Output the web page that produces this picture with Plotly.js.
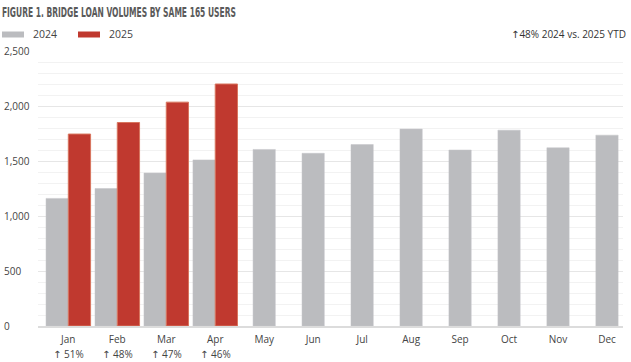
<!DOCTYPE html>
<html><head><meta charset="utf-8">
<script src="https://cdn.plot.ly/plotly-3.0.1.min.js"></script>
<style>html,body{margin:0;padding:0;background:#fff;}#chart{width:631px;height:362px;}</style>
</head><body><div id="chart"></div>
<script>
const months = ['Jan','Feb','Mar','Apr','May','Jun','Jul','Aug','Sep','Oct','Nov','Dec'];
const volumes2024 = [1160,1250,1390,1510,1605,1570,1650,1790,1600,1780,1620,1735];
const volumes2025 = [1745,1850,2035,2200,null,null,null,null,null,null,null,null];
const growthPct = [51,48,47,46];
const yTicks = [0,500,1000,1500,2000,2500];
const seriesNames = ['2024','2025'];
const ytdGrowth = 48;
const titleText = 'FIGURE 1. BRIDGE LOAN VOLUMES BY SAME 165 USERS';

const W=631,H=362,L=38,R=8,T=51,B=36;
const pw=W-L-R, ph=H-T-B;
const px=p=>(p-L)/pw, py=p=>(H-B-p)/ph;
const barW=0.455;
const gray='#bbbcbf', red='#c0392f';
const xs=months.map((_,i)=>i);
const font="'Open Sans', 'DejaVu Sans', sans-serif";

const traces=[
 {type:'bar',name:seriesNames[0],x:xs,y:volumes2024,width:barW,
  offset:volumes2025.map(v=>v==null?-barW/2:-barW),
  marker:{color:gray,line:{color:'#c4c5c8',width:0.5}},hoverinfo:'skip'},
 {type:'bar',name:seriesNames[1],x:xs,y:volumes2025,width:barW,offset:0,
  marker:{color:red,line:{color:'#d8755e',width:1}},hoverinfo:'skip'}
];

const annotations=[];
yTicks.forEach(v=>annotations.push({xref:'paper',yref:'y',x:px(2),y:v,xanchor:'left',yanchor:'middle',
  text:v.toLocaleString('en-US'),showarrow:false,font:{family:font,size:10,color:'#444'}}));
growthPct.forEach((g,i)=>annotations.push({xref:'x',yref:'paper',x:i,y:py(354),xanchor:'center',yanchor:'middle',
  text:'↑ '+g+'%',showarrow:false,borderpad:0,font:{family:font,size:10,color:'#444'}}));
annotations.push({xref:'paper',yref:'paper',x:px(628),y:py(34.5),xanchor:'right',yanchor:'middle',
  text:'↑'+ytdGrowth+'% '+seriesNames[0]+' vs. '+seriesNames[1]+' YTD',showarrow:false,font:{family:font,size:10,color:'#333'}});
annotations.push({xref:'paper',yref:'paper',x:px(31),y:py(34.5),xanchor:'left',yanchor:'middle',
  text:seriesNames[0],showarrow:false,font:{family:font,size:10.5,color:'#444'}});
annotations.push({xref:'paper',yref:'paper',x:px(107),y:py(34.5),xanchor:'left',yanchor:'middle',
  text:seriesNames[1],showarrow:false,font:{family:font,size:10.5,color:'#444'}});

const shapes=[
 {type:'rect',xref:'paper',yref:'paper',x0:px(2),x1:px(24),y0:py(37.5),y1:py(31.5),fillcolor:gray,line:{width:0}},
 {type:'rect',xref:'paper',yref:'paper',x0:px(78),x1:px(100),y0:py(37.5),y1:py(31.5),fillcolor:red,line:{width:0}}
];

const layout={
 width:W,height:H,margin:{l:L,r:R,t:T,b:B},
 paper_bgcolor:'#fff',plot_bgcolor:'#fff',
 barmode:'overlay',showlegend:false,
 title:{text:'<b>'+titleText+'</b>',xref:'container',yref:'container',x:0.003,xanchor:'left',y:1-12.5/H,yanchor:'middle',
   font:{family:"'Liberation Sans Narrow', 'DejaVu Sans Condensed', sans-serif",size:13.5,color:'#5a5a5a'}},
 xaxis:{range:[-0.619,11.327],tickvals:xs,ticktext:months,showgrid:false,zeroline:false,
   showline:true,linecolor:'#dcdcdc',linewidth:2,ticks:'',tickfont:{family:font,size:10,color:'#444'},ticklabelstandoff:3,fixedrange:true},
 yaxis:{range:[0,2500],tickvals:yTicks,showticklabels:false,gridcolor:'#e6e6e6',gridwidth:1,zeroline:false,
   minor:{dtick:100,showgrid:true,gridcolor:'#f2f2f2',gridwidth:1},fixedrange:true},
 annotations,shapes
};
Plotly.newPlot('chart',traces,layout,{displayModeBar:false,staticPlot:true}).then(gd=>{
  const t=gd.querySelector('.gtitle');
  if(t){t.setAttribute('textLength','234');t.setAttribute('lengthAdjust','spacingAndGlyphs');}
});
</script></body></html>
